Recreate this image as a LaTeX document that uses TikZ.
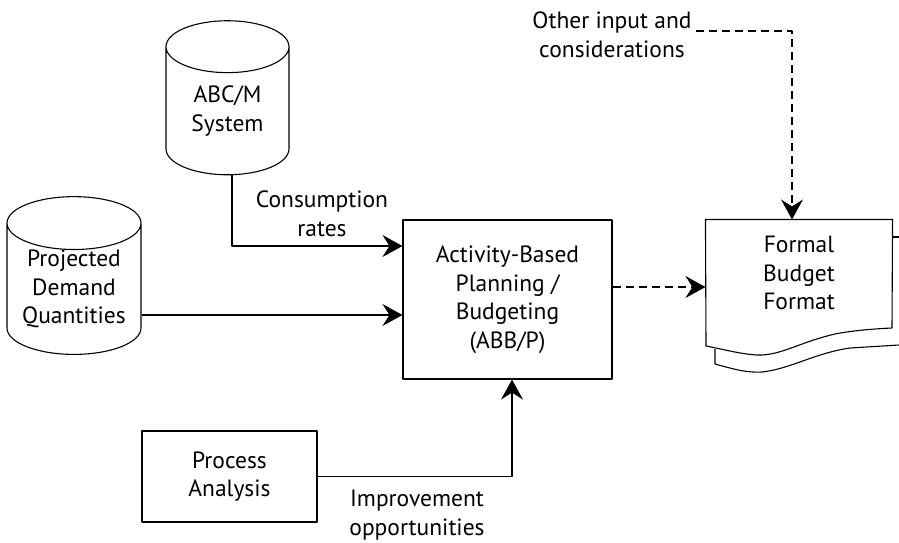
\documentclass[tikz,border=0pt]{standalone}
\usepackage{fontspec}
\setmainfont{PT Sans}
\usetikzlibrary{shapes.geometric,arrows.meta}
\begin{document}
\begin{tikzpicture}[x=1pt,y=-1pt,line join=round,line width=1.1pt,>={Stealth[length=20pt,width=22pt,inset=7pt]}]
	\tikzset{every node/.style={font=\fontsize{23.5}{28.5}\selectfont,align=center,inner sep=0pt}}
	\tikzset{db/.style={draw,cylinder,shape border rotate=90}}
	\tikzset{box/.style={draw,rectangle}}
	\useasboundingbox (0,0) rectangle (899,542);
	% sources
	\node[db,minimum width=123pt,minimum height=154pt,aspect=0.72] (abc) at (227.5,111) {ABC/M\\System};
	\node[db,minimum width=134pt,minimum height=152pt,aspect=0.51] (proj) at (74,289) {Projected\\Demand\\Quantities};
	\node[box,minimum width=175pt,minimum height=91pt] (pa) at (229.5,476.5) {Process\\Analysis};
	% central box
	\node[box,minimum width=209pt,minimum height=159pt] (abb) at (507.5,299.5) {Activity-Based\\Planning /\\Budgeting\\(ABB/P)};
	% output document
	\node[minimum width=186pt,minimum height=106pt] (doc) at (799,273) {Formal\\Budget\\Format};
	\draw (706,346) -- (doc.north west) -- (doc.north east) -- (892,328)
		.. controls (870,329) and (850,331) .. (835,334)
		.. controls (800,342) and (780,356) .. (757,355)
		.. controls (740,354) and (722,349) .. (706,346);
	\draw (892,237) -- (899,237);
	\draw (715,349) -- (715,364)
		.. controls (730,368) and (745,373) .. (762,372)
		.. controls (790,369) and (815,353) .. (850,348) -- (899,345);
	% labels
	\node (cr) at (322,214) {Consumption\\rates};
	\node (io) at (417,515) {Improvement\\opportunities};
	\node (oth) at (612,35) {Other input and\\considerations};
	% connectors
	\coordinate (in1) at ([yshift=53.5pt]abb.west);
	\coordinate (in2) at ([yshift=-15.5pt]abb.west);
	\coordinate (oin) at ([xshift=4pt]oth.east |- 0,31);
	\draw[->] ([xshift=4.5pt]abc.south) |- (in1);
	\draw[->] (proj.east |- in2) -- (in2);
	\draw[->] (pa.east) -| ([xshift=4.5pt]abb.south);
	\draw[->,dash pattern=on 8pt off 5pt] ([yshift=12.5pt]abb.east) -- ([yshift=-14pt]doc.west);
	\draw[->,dash pattern=on 8pt off 5pt] (oin) -| ([xshift=-7pt]doc.north);
\end{tikzpicture}
\end{document}
